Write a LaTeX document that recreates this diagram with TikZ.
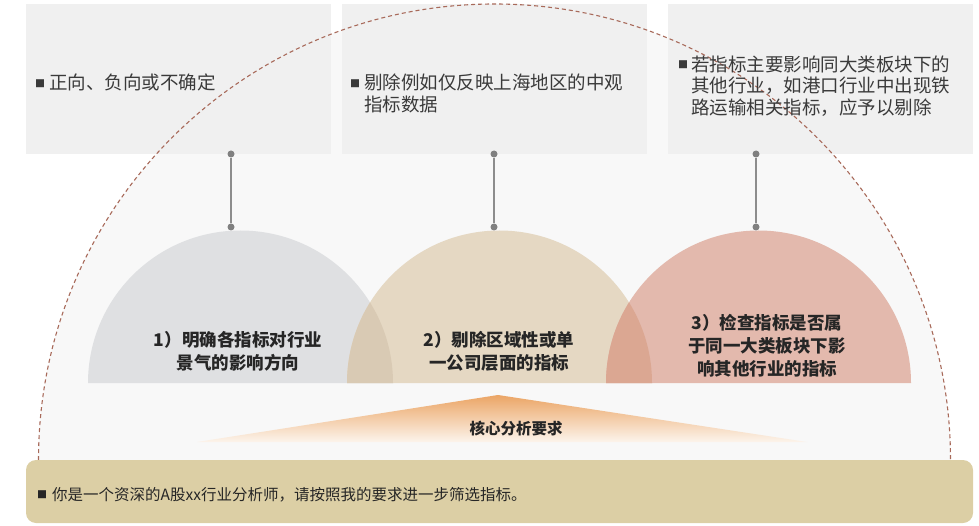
\documentclass[tikz,border=0pt]{standalone}
\usepackage{fontspec}
\setmainfont{Noto Sans CJK SC}
\usetikzlibrary{shapes.geometric}
\definecolor{bgsemi}{HTML}{F8F8F8}
\definecolor{boxgrey}{HTML}{F0F0F0}
\definecolor{dashc}{HTML}{A86A5A}
\definecolor{cgrey}{HTML}{DFE0E2}
\definecolor{cbeige}{HTML}{E5D8C3}
\definecolor{cpink}{HTML}{E3B9AD}
\definecolor{ov12}{HTML}{D9CAB4}
\definecolor{ov23}{HTML}{DBA792}
\definecolor{barc}{HTML}{DCCFA5}
\definecolor{orangetop}{HTML}{EBA565}
\definecolor{orangebot}{HTML}{FCF4EC}
\definecolor{dotc}{HTML}{808080}
\definecolor{txtc}{HTML}{3A3A3A}
\definecolor{boldtxt}{HTML}{262626}
\tikzset{
  topbox/.style={fill=boxgrey, draw=none},
  conndot/.style={circle, fill=dotc, draw=none, inner sep=0pt, minimum size=7pt},
  connline/.style={draw=dotc!90, line width=1.5pt},
  boxtext/.style={anchor=west, inner sep=0pt, text=txtc, font=\fontsize{18.5}{21}\selectfont},
  semitext/.style={inner sep=0pt, text=boldtxt, align=center, font=\bfseries\fontsize{17.5}{23}\selectfont},
}
\newcommand{\mybul}{\raisebox{2.5pt}{\fontsize{10}{10}\selectfont ■}}
\begin{document}
\begin{tikzpicture}[x=1pt,y=1pt]
\useasboundingbox (0,0) rectangle (979,-526);
% big semicircle background
\fill[bgsemi] (38.5,-460) arc (180:0:456) -- cycle;
% top boxes
\fill[topbox] (26,-4) rectangle (331,-154);
\fill[topbox] (342,-4) rectangle (647,-154);
\fill[topbox] (668,-4) rectangle (973,-154);
% dashed arc
\draw[dashc, line width=1.1pt, dash pattern=on 4pt off 3pt] (38.5,-460) arc (180:0:456);
% semicircles
\fill[cgrey] (88,-383) arc (180:0:152.5) -- cycle;
\fill[cbeige] (347,-383) arc (180:0:152.5) -- cycle;
\fill[cpink] (606,-383) arc (180:0:152.5) -- cycle;
\begin{scope}
  \clip (88,-383) arc (180:0:152.5) -- cycle;
  \fill[ov12] (347,-383) arc (180:0:152.5) -- cycle;
\end{scope}
\begin{scope}
  \clip (347,-383) arc (180:0:152.5) -- cycle;
  \fill[ov23] (606,-383) arc (180:0:152.5) -- cycle;
\end{scope}
% connectors
\node[conndot] (t1) at (231,-154) {};
\node[conndot] (b1) at (231,-227) {};
\node[conndot] (t2) at (494,-154) {};
\node[conndot] (b2) at (494,-227) {};
\node[conndot] (t3) at (756,-154) {};
\node[conndot] (b3) at (756,-227) {};
\draw[connline] (t1) -- (b1);
\draw[connline] (t2) -- (b2);
\draw[connline] (t3) -- (b3);
% box texts
\node[boxtext] (bx1) at (35,-85) {\begin{tabular}{@{}l@{\hspace{4pt}}l@{}}\mybul & 正向、负向或不确定\end{tabular}};
\node[boxtext] (bx2) at (350,-96) {\begin{tabular}{@{}l@{\hspace{4pt}}l@{}}\mybul & 剔除例如仅反映上海地区的中观\\ & 指标数据\end{tabular}};
\node[boxtext] (bx3) at (678,-88) {\fontsize{18.5}{20}\selectfont\begin{tabular}{@{}l@{\hspace{3pt}}l@{}}\mybul & 若指标主要影响同大类板块下的\\ & 其他行业，如港口行业中出现铁\\ & 路运输相关指标，应予以剔除\end{tabular}};
% semicircle texts
\node[semitext] (s1) at (238,-351.5) {1）明确各指标对行业\\景气的影响方向};
\node[semitext] (s2) at (499,-351.5) {2）剔除区域性或单\\一公司层面的指标};
\node[semitext] (s3) at (767,-346) {3）检查指标是否属\\于同一大类板块下影\\响其他行业的指标};
% orange triangle
\shade[top color=orangetop, bottom color=orangebot] (498,-395) -- (807,-442) -- (197,-442) -- cycle;
\node[inner sep=0pt, text=boldtxt, font=\bfseries\fontsize{15.5}{16}\selectfont] (core) at (516,-429) {核心分析要求};
% bottom bar
\fill[barc, rounded corners=10pt] (26,-460) rectangle (973,-523);
\node[anchor=west, inner sep=0pt, text=boldtxt, font=\fontsize{15.5}{16}\selectfont] (bottomtxt) at (37,-495) {\mybul\hspace{5pt}你是一个资深的A股xx行业分析师，请按照我的要求进一步筛选指标。};
\end{tikzpicture}
\end{document}
